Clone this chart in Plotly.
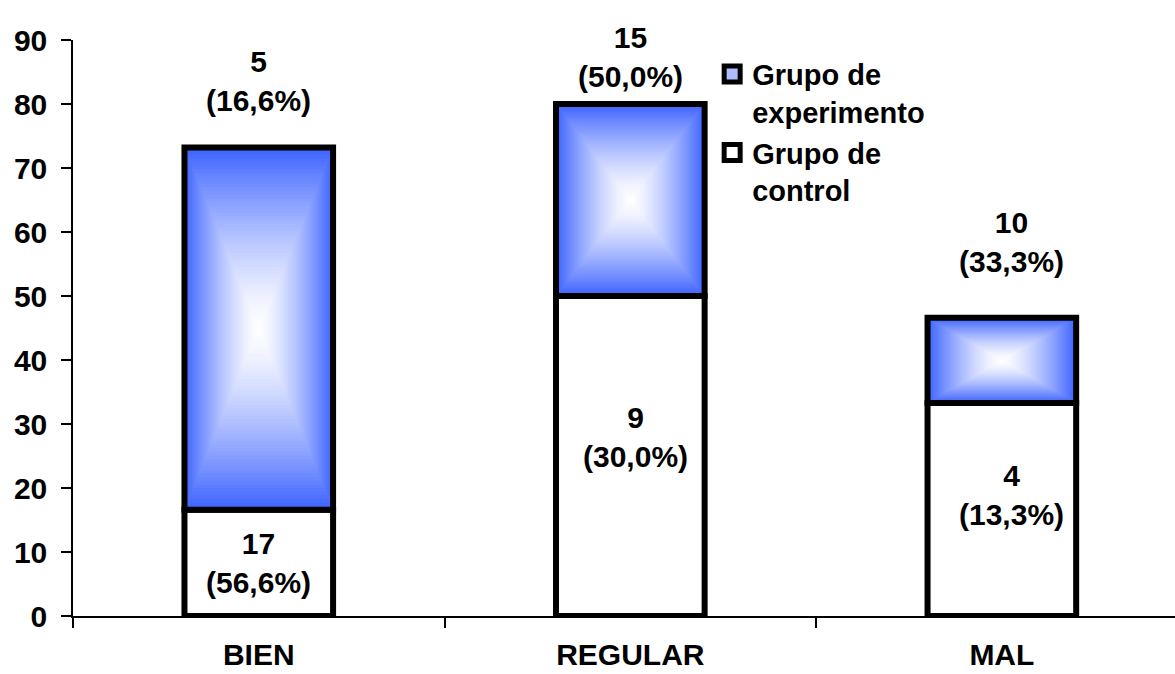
import plotly.graph_objects as go

categories = ["BIEN", "REGULAR", "MAL"]
control_values = [16.6, 50.0, 33.3]
experiment_values = [56.6, 30.0, 13.3]
top_labels = ["5<br>(16,6%)", "15<br>(50,0%)", "10<br>(33,3%)"]
inner_labels = ["17<br>(56,6%)", "9<br>(30,0%)", "4<br>(13,3%)"]
series_names = ["Grupo de<br>experimento", "Grupo de<br>control"]
y_ticks = [0, 10, 20, 30, 40, 50, 60, 70, 80, 90]

FONT = "Liberation Sans, Arial, sans-serif"
BLUE = (62, 100, 255)
BAR_W = 0.4
N_LAYERS = 50

fig = go.Figure()

# control (white) bars
fig.add_trace(go.Bar(
    x=categories, y=control_values, base=[0] * len(categories), width=BAR_W,
    marker=dict(color="white", line=dict(color="black", width=6)),
    showlegend=False, hoverinfo="skip",
))

# experiment bars: box gradient built from concentric bars
centers = [c + e / 2 for c, e in zip(control_values, experiment_values)]
for k in range(N_LAYERS):
    s = 1 - k / N_LAYERS
    t = s ** 1.4  # 1 at edge (blue), 0 at centre (white)
    col = "rgb(%d,%d,%d)" % tuple(round(255 + (b - 255) * t) for b in BLUE)
    heights = [e * s for e in experiment_values]
    bases = [c - h / 2 for c, h in zip(centers, heights)]
    fig.add_trace(go.Bar(
        x=categories, y=heights, base=bases, width=BAR_W * s,
        marker=dict(color=col, line=dict(width=0)),
        showlegend=False, hoverinfo="skip",
    ))

# experiment outline
fig.add_trace(go.Bar(
    x=categories, y=experiment_values, base=control_values, width=BAR_W,
    marker=dict(color="rgba(0,0,0,0)", line=dict(color="black", width=6)),
    showlegend=False, hoverinfo="skip",
))

# legend entries
fig.add_trace(go.Scatter(
    x=[None], y=[None], mode="markers", name=series_names[0], legendgroup="a",
    marker=dict(symbol="square", size=16, color="rgb(175,188,255)",
                line=dict(color="black", width=5)),
))
fig.add_trace(go.Scatter(
    x=[None], y=[None], mode="markers", name=series_names[1], legendgroup="b",
    marker=dict(symbol="square", size=16, color="white",
                line=dict(color="black", width=5)),
))

label_font = dict(family=FONT, size=30, color="black", weight="bold")
top_yshift = [29, 9, 38]
top_xshift = [0, 0, 10]
inner_yshift = [0, 19, 14]
inner_xshift = [0, 5, 10]
for i, cat in enumerate(categories):
    fig.add_annotation(x=cat, y=control_values[i] + experiment_values[i],
                       text=top_labels[i], showarrow=False, yanchor="bottom",
                       yshift=top_yshift[i], xshift=top_xshift[i], font=label_font)
    fig.add_annotation(x=cat, y=control_values[i] / 2,
                       text=inner_labels[i], showarrow=False, yanchor="middle",
                       yshift=inner_yshift[i], xshift=inner_xshift[i], font=label_font)

fig.update_layout(
    width=1175, height=674,
    margin=dict(l=73, r=0, t=40, b=58, autoexpand=False),
    barmode="overlay",
    plot_bgcolor="white", paper_bgcolor="white",
    font=dict(family=FONT, color="black"),
    legend=dict(
        x=0.58, y=0.985, xanchor="left", yanchor="top",
        font=dict(family=FONT, size=29, color="black", weight="bold"),
        valign="top", tracegroupgap=30, traceorder="normal",
        bgcolor="rgba(0,0,0,0)",
    ),
    xaxis=dict(
        type="category", range=[-0.5, 2.466], showgrid=False, zeroline=False,
        showline=True, linecolor="black", linewidth=1.5, automargin=False,
        ticks="outside", tickson="boundaries", ticklen=10, tickwidth=1.5,
        tickcolor="black",
        tickfont=dict(family=FONT, size=30, color="black", weight="bold"),
        ticklabelstandoff=11,
    ),
    yaxis=dict(
        range=[0, 90], tickvals=y_ticks, showgrid=False, zeroline=False,
        showline=True, linecolor="black", linewidth=1.5, automargin=False,
        ticks="outside", ticklen=10, tickwidth=1.5, tickcolor="black",
        tickfont=dict(family=FONT, size=30, color="black", weight="bold"),
        ticklabelstandoff=8,
    ),
)

fig.write_html("out.html", config={"displayModeBar": False},
               post_script="document.body.style.margin='0';")
